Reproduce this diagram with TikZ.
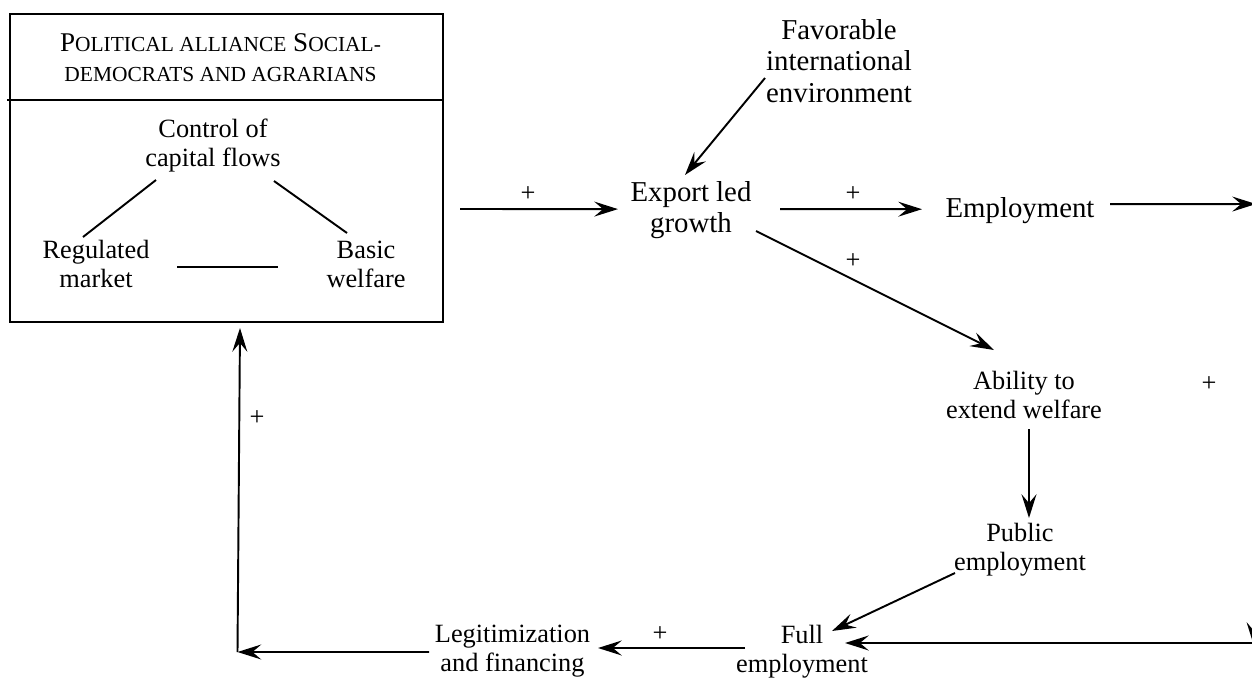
\documentclass[tikz,border=0pt]{standalone}
\usepackage{fontspec}
\setmainfont{Liberation Serif}
\usetikzlibrary{arrows.meta,calc}
\newcommand\smcp[1]{{\fontsize{12.2}{17}\selectfont #1}}
\begin{document}
\begin{tikzpicture}[x=0.02cm,y=-0.02cm,
  txt/.style={inner sep=0pt,align=center,font=\fontsize{15}{16.5}\selectfont},
  big/.style={inner sep=0pt,align=center,font=\fontsize{16.4}{18}\selectfont},
  pl/.style={inner sep=0pt,font=\fontsize{15}{16.5}\selectfont},
  ln/.style={line width=1.1pt},
  arr/.style={line width=1.1pt,-{Stealth[length=13.5pt,width=8.5pt,inset=5pt]}},
  frame/.style={draw,line width=1.1pt,inner sep=0pt,minimum width=8.66cm,minimum height=6.16cm},
]
\useasboundingbox (0,0) rectangle (1252,677);

% alliance box
\node[frame] (box) at (226.5,168) {};
\node[inner sep=0pt,align=center,font=\fontsize{15.4}{17}\selectfont] (title) at (220.5,58)
  {P\smcp{OLITICAL ALLIANCE} S\smcp{OCIAL-}\\\smcp{DEMOCRATS AND AGRARIANS}};
\draw[ln] ($(box)+(-219.5,-68)$) -- ($(box)+(216.5,-68)$);
\node[txt] (ctl) at (213,145.3) {Control of\\capital flows};
\node[txt] (reg) at (96,264) {Regulated\\market};
\node[txt] (bas) at (366,264) {Basic\\welfare};
\draw[ln] ($(ctl)+(-57,34.7)$) -- ($(reg)+(-13,-27)$);
\draw[ln] ($(ctl)+(61,35.7)$) -- ($(bas)+(-19,-31)$);
\draw[ln] ($(reg)+(81,3)$) -- ($(bas)+(-88,3)$);

% other nodes
\node[big] (fav) at (839,61) {Favorable\\international\\environment};
\node[big] (exp) at (691,210.1) {Export led\\growth};
\node[big] (emp) at (1020,210.2) {Employment};
\node[txt] (abl) at (1024,394.5) {Ability to\\extend welfare};
\node[txt] (pub) at (1020,549.8) {Public\\employment};
\node[txt] (full) at (802,651.3) {Full\\employment};
\node[txt] (leg) at (512.5,651.3) {Legitimization\\and financing};

% free corners
\coordinate (rA) at (1256,204);
\coordinate (rB) at (1254,646);
\coordinate (rC) at (1256,643);
\coordinate (c1) at (237.5,652);

% plus signs
\node[pl] (p1) at (528,194) {+};
\node[pl] (p2) at (853,194) {+};
\node[pl] (p3) at (853,261) {+};
\node[pl] (p4) at (1209,384) {+};
\node[pl] (p5) at (660,634) {+};
\node[pl] (p6) at (257,418) {+};

% connectors
\draw[arr] ($(box)+(233.5,41)$) -- ($(exp)+(-73,-1)$);
\draw[arr] ($(exp)+(89,-1)$) -- ($(emp)+(-98,-1)$);
\draw[arr] ($(emp)+(90,-6)$) -- (rA);
\draw[arr] ($(fav)+(-74,17)$) -- ($(exp)+(-6,-35.1)$);
\draw[arr] ($(exp)+(65,20.9)$) -- ($(abl)+(-30,-44.5)$);
\draw[arr] ($(abl)+(5,34.5)$) -- ($(pub)+(9,-31.8)$);
\draw[arr] ($(pub)+(-65,23.2)$) -- ($(full)+(30,-20.3)$);
\draw[arr] (rA) -- (rB);
\draw[arr] (rC) -- ($(full)+(43,-8.3)$);
\draw[arr] ($(full)+(-57,-3.3)$) -- ($(leg)+(85.5,-3.3)$);
\draw[arr] ($(leg)+(-83.5,0.7)$) -- (c1);
\draw[arr] (c1) -- ($(box)+(13.5,160)$);
\end{tikzpicture}
\end{document}
